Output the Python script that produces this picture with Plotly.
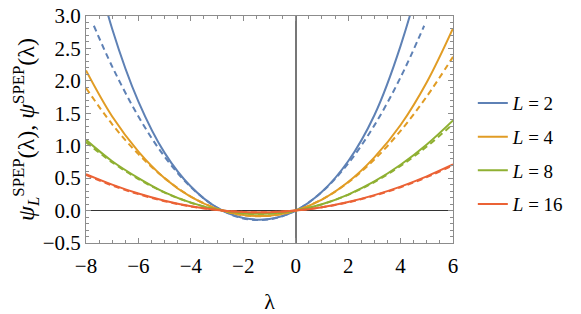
import plotly.graph_objects as go

# lambda grid
lam = [-8, -7, -6, -5, -4, -3, -2, -1, 0, 1, 2, 3, 4, 5, 6]

# solid curves psi_L^SPEP(lambda)
psi_L2 = [4.34, 2.80, 1.68, 0.89, 0.37, 0.044, -0.115, -0.129, 0, 0.29, 0.76, 1.47, 2.54, 3.99, 5.96]
psi_L4 = [2.16, 1.45, 0.91, 0.50, 0.21, 0.026, -0.070, -0.078, 0, 0.17, 0.44, 0.82, 1.32, 1.98, 2.81]
psi_L8 = [1.09, 0.76, 0.50, 0.28, 0.123, 0.015, -0.041, -0.046, 0, 0.097, 0.247, 0.449, 0.706, 1.019, 1.39]
psi_L16 = [0.562, 0.40, 0.262, 0.151, 0.066, 0.008, -0.022, -0.025, 0, 0.052, 0.132, 0.238, 0.370, 0.528, 0.71]

# dashed curves psi^SPEP(lambda)
lam_d2 = [-7.7, -7, -6, -5, -4, -3, -2, -1, 0, 1, 2, 3, 4, 4.9]
dash_L2 = [2.85, 2.22, 1.45, 0.83, 0.362, 0.045, -0.121, -0.136, 0, 0.287, 0.725, 1.314, 2.054, 2.85]
dash_L4 = [1.89, 1.33, 0.87, 0.50, 0.217, 0.027, -0.072, -0.081, 0, 0.172, 0.434, 0.786, 1.229, 1.76, 2.37]
dash_L8 = [1.055, 0.744, 0.486, 0.278, 0.121, 0.015, -0.040, -0.046, 0, 0.096, 0.243, 0.440, 0.688, 0.987, 1.336]
dash_L16 = [0.549, 0.388, 0.253, 0.145, 0.063, 0.008, -0.021, -0.024, 0, 0.050, 0.127, 0.230, 0.359, 0.515, 0.697]

labels = ["<i>L</i> = 2", "<i>L</i> = 4", "<i>L</i> = 8", "<i>L</i> = 16"]
colors = ["#5E81B5", "#E19C24", "#8FB032", "#EB6235"]

solid = [(lam, psi_L2), (lam, psi_L4), (lam, psi_L8), (lam, psi_L16)]
dashed = [(lam_d2, dash_L2), (lam, dash_L4), (lam, dash_L8), (lam, dash_L16)]

FONT = "Liberation Serif"

fig = go.Figure()
for i in range(4):
    fig.add_trace(go.Scatter(
        x=solid[i][0], y=solid[i][1], mode="lines", name=labels[i],
        line=dict(color=colors[i], width=2, shape="spline", smoothing=1),
        legendgroup=str(i)))
    fig.add_trace(go.Scatter(
        x=dashed[i][0], y=dashed[i][1], mode="lines",
        line=dict(color=colors[i], width=2, dash="6px,4px", shape="spline", smoothing=1),
        showlegend=False, legendgroup=str(i), hoverinfo="skip"))

frame = "#8c8c8c"
fig.update_layout(
    width=581, height=314,
    margin=dict(l=86, r=128, t=16, b=71, autoexpand=False),
    plot_bgcolor="white", paper_bgcolor="white",
    font=dict(family=FONT, size=19, color="black"),
    showlegend=True,
    legend=dict(x=1.054, y=0.70, xanchor="left", yanchor="top",
                font=dict(family=FONT, size=19), tracegroupgap=6,
                bgcolor="rgba(0,0,0,0)", itemwidth=30, traceorder="grouped"),
    xaxis=dict(range=[-8, 6], tickmode="array", tickvals=[-8, -6, -4, -2, 0, 2, 4, 6],
               ticktext=["\u22128", "\u22126", "\u22124", "\u22122", "0", "2", "4", "6"],
               ticks="inside", ticklen=5, tickcolor=frame, tickwidth=1,
               minor=dict(ticks="inside", ticklen=3, dtick=0.5, tickcolor=frame, showgrid=False),
               showline=True, linecolor=frame, linewidth=1, mirror="ticks",
               showgrid=False, zeroline=True, zerolinecolor="#777777", zerolinewidth=1.5,
               tickfont=dict(family=FONT, size=21), ticklabelstandoff=4,
               ticklabeloverflow="allow",
               title=dict(text="\u03bb", font=dict(family=FONT, size=22), standoff=16)),
    yaxis=dict(range=[-0.5, 3.0], tickmode="array", tickvals=[-0.5, 0, 0.5, 1.0, 1.5, 2.0, 2.5, 3.0],
               ticktext=["\u22120.5", "0.0", "0.5", "1.0", "1.5", "2.0", "2.5", "3.0"],
               ticks="inside", ticklen=5, tickcolor=frame, tickwidth=1,
               minor=dict(ticks="inside", ticklen=3, dtick=0.1, tickcolor=frame, showgrid=False),
               showline=True, linecolor=frame, linewidth=1, mirror="ticks",
               showgrid=False, zeroline=True, zerolinecolor="#333333", zerolinewidth=1,
               tickfont=dict(family=FONT, size=21), ticklabelstandoff=0,
               ticklabeloverflow="allow",
               title=dict(text="<i>\u03c8</i><sub><i>L</i></sub><sup>SPEP</sup>(\u03bb), <i>\u03c8</i><sup>SPEP</sup>(\u03bb)",
                          font=dict(family=FONT, size=24), standoff=1)),
)

fig.write_html("out.html", config={"displayModeBar": False},
               post_script="document.body.style.margin='0';")
